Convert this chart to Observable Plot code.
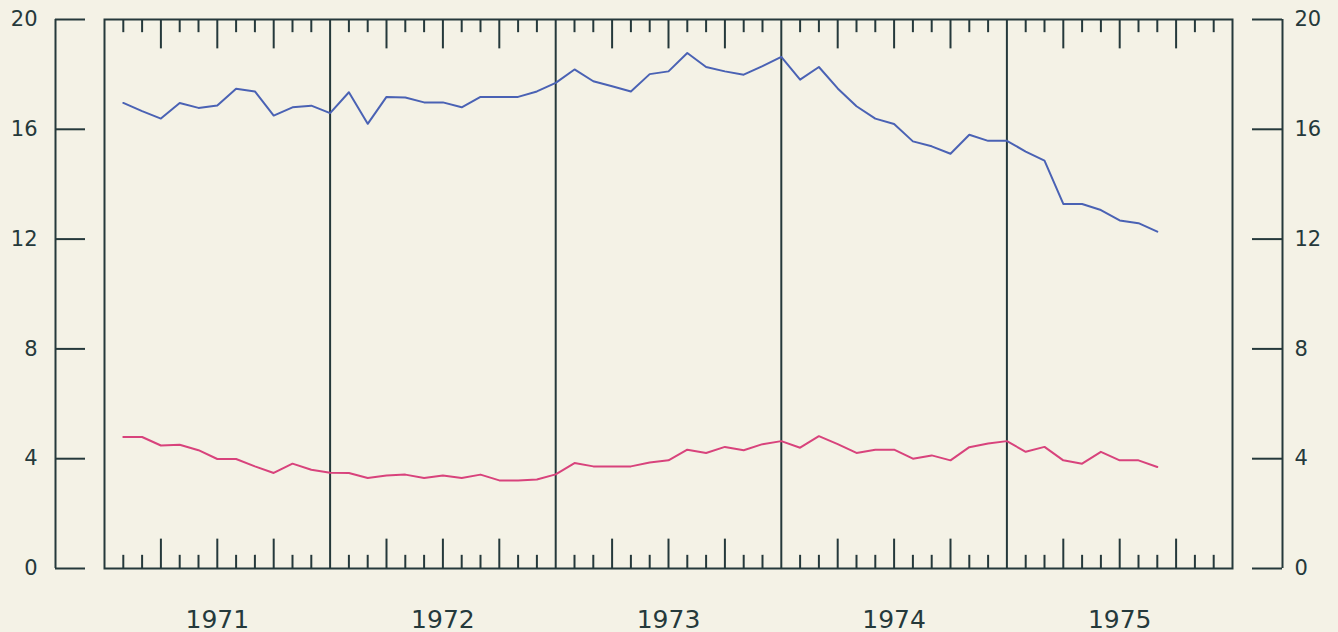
<!DOCTYPE html>
<html>
<head>
<meta charset="utf-8">
<script src="https://cdn.jsdelivr.net/npm/d3@7"></script>
<script src="https://cdn.jsdelivr.net/npm/@observablehq/plot@0.6"></script>
<style>
  html, body { margin: 0; padding: 0; background: #f4f2e6; }
  #chart svg { display: block; }
</style>
</head>
<body>
<div id="chart"></div>
<script>
// Monthly series, Jan 1971 – Aug 1975 (each value plotted at the end of its month)
const years = [1971, 1972, 1973, 1974, 1975];
const yTicks = [0, 4, 8, 12, 16, 20];
const blueSeries = [
  16.96, 16.66, 16.39, 16.96, 16.78, 16.87, 17.48, 17.38, 16.50, 16.80, 16.86, 16.59,
  17.35, 16.20, 17.18, 17.16, 16.98, 16.98, 16.80, 17.18, 17.18, 17.18, 17.38, 17.69,
  18.18, 17.75, 17.57, 17.38, 18.01, 18.11, 18.78, 18.27, 18.11, 17.99, 18.30, 18.64,
  17.81, 18.27, 17.49, 16.84, 16.39, 16.19, 15.56, 15.38, 15.11, 15.80, 15.58, 15.58,
  15.19, 14.86, 13.28, 13.28, 13.06, 12.68, 12.58, 12.27
];
const pinkSeries = [
  4.79, 4.79, 4.48, 4.51, 4.31, 3.99, 3.99, 3.72, 3.48, 3.82, 3.60, 3.49,
  3.48, 3.30, 3.39, 3.42, 3.30, 3.39, 3.30, 3.42, 3.21, 3.21, 3.24, 3.43,
  3.84, 3.72, 3.72, 3.72, 3.86, 3.94, 4.33, 4.21, 4.43, 4.31, 4.53, 4.64,
  4.40, 4.82, 4.53, 4.21, 4.33, 4.33, 4.00, 4.12, 3.94, 4.42, 4.55, 4.64,
  4.25, 4.43, 3.94, 3.82, 4.25, 3.94, 3.94, 3.70
];

const ink = "#25393b";
const blue = "#4a62b4";
const pink = "#d8437c";
const nMonths = years.length * 12;

const blueData = blueSeries.map((v, i) => ({m: i + 1, v}));
const pinkData = pinkSeries.map((v, i) => ({m: i + 1, v}));
const monthTicks = d3.range(1, nMonths).filter(m => m % 12 !== 0);
const shortTicks = monthTicks.filter(m => m % 3 !== 0);
const longTicks = monthTicks.filter(m => m % 3 === 0);
const yearBounds = d3.range(1, years.length).map(i => i * 12);

const W = 1338, H = 632;
const mL = 104, mR = 106, mT = 19, mB = 64;
const innerW = W - mL - mR;

const axisGap = 49;   // distance of side axis lines from the frame
const tickLen = 30;   // side axis tick length
const shortLen = 0.48, longLen = 1.07; // month tick lengths in y units

const chart = Plot.plot({
  width: W,
  height: H,
  marginLeft: mL,
  marginRight: mR,
  marginTop: mT,
  marginBottom: mB,
  style: {background: "#f4f2e6", overflow: "visible"},
  x: {domain: [0, nMonths], axis: null},
  y: {domain: [0, 20], axis: null},
  marks: [
    // left and right y axes (offset from the frame)
    Plot.ruleX([0], {dx: -axisGap, stroke: ink, strokeWidth: 2}),
    Plot.ruleX([nMonths], {dx: axisGap + 1, stroke: ink, strokeWidth: 2}),
    Plot.ruleY(yTicks, {insetLeft: -axisGap, insetRight: innerW + axisGap - tickLen, stroke: ink, strokeWidth: 2}),
    Plot.ruleY(yTicks, {insetLeft: innerW + axisGap + 1 - tickLen, insetRight: -(axisGap + 1), stroke: ink, strokeWidth: 2}),
    Plot.text(yTicks, {x: 0, y: d => d, dx: -67, textAnchor: "end", text: d => String(d),
      fill: ink, fontSize: 21, fontFamily: "DejaVu Sans"}),
    Plot.text(yTicks, {x: nMonths, y: d => d, dx: 62, textAnchor: "start", text: d => String(d),
      fill: ink, fontSize: 21, fontFamily: "DejaVu Sans"}),
    // year separators
    Plot.ruleX(yearBounds, {stroke: ink, strokeWidth: 2}),
    // month ticks bottom and top
    Plot.ruleX(shortTicks, {y1: 0, y2: shortLen, stroke: ink, strokeWidth: 2}),
    Plot.ruleX(longTicks, {y1: 0, y2: longLen, stroke: ink, strokeWidth: 2}),
    Plot.ruleX(shortTicks, {y1: 20, y2: 20 - shortLen, stroke: ink, strokeWidth: 2}),
    Plot.ruleX(longTicks, {y1: 20, y2: 20 - longLen, stroke: ink, strokeWidth: 2}),
    Plot.frame({stroke: ink, strokeWidth: 2}),
    // year labels
    Plot.text(years, {x: (d, i) => i * 12 + 6, y: 0, dy: 51, text: d => String(d),
      fill: ink, fontSize: 25, fontFamily: "DejaVu Sans"}),
    // data lines
    Plot.line(blueData, {x: "m", y: "v", stroke: blue, strokeWidth: 2}),
    Plot.line(pinkData, {x: "m", y: "v", stroke: pink, strokeWidth: 2})
  ]
});
document.getElementById("chart").appendChild(chart);
</script>
</body>
</html>
